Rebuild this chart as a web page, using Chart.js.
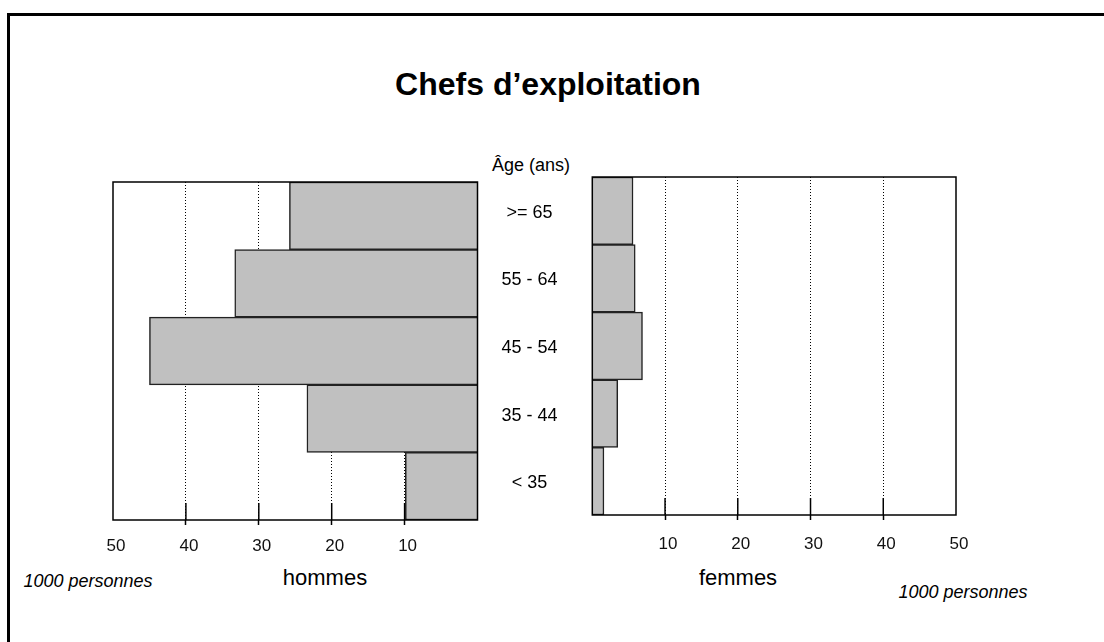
<!DOCTYPE html>
<html>
<head>
<meta charset="utf-8">
<script src="https://cdn.jsdelivr.net/npm/chart.js@4"></script>
<style>
  html, body { margin: 0; overflow: hidden; }
  body { width: 1104px; height: 642px; background: #fff; position: relative;
         font-family: "Liberation Sans", Arial, sans-serif; color: #000; }
  .frame { position: absolute; left: 7px; top: 13px; right: 0; bottom: 0;
           border-top: 3px solid #000; border-left: 3px solid #000; }
  .lbl { position: absolute; transform: translate(-50%, -50%); line-height: 1; white-space: nowrap; }
  canvas { position: absolute; top: 0; }
</style>
</head>
<body>
<div class="frame"></div>
<div class="lbl" style="left:548px; top:84px; font-size:32px; font-weight:bold;">Chefs d’exploitation</div>
<div class="lbl" style="left:531px; top:165px; font-size:18px;">Âge (ans)</div>
<div class="lbl" style="left:325px; top:578px; font-size:22px;">hommes</div>
<div class="lbl" style="left:738px; top:578px; font-size:22px;">femmes</div>
<div class="lbl" style="left:88px; top:581px; font-size:18px; font-style:italic;">1000 personnes</div>
<div class="lbl" style="left:963px; top:592px; font-size:18px; font-style:italic;">1000 personnes</div>

<canvas id="chartHommes" width="600" height="642" style="left:0"></canvas>
<canvas id="chartFemmes" width="544" height="642" style="left:560px"></canvas>

<script>
// Classes d'âge (de haut en bas) et effectifs en milliers
const ageGroups = ['>= 65', '55 - 64', '45 - 54', '35 - 44', '< 35'];
const hommes = [25.8, 33.3, 45.0, 23.4, 9.9];
const femmes = [5.6, 5.9, 6.9, 3.5, 1.6];
const axisMax = 50;
const axisStep = 10;

Chart.defaults.font.family = '"Liberation Sans", Arial, sans-serif';
Chart.defaults.color = '#000';

const hidden = 'rgba(0,0,0,0)';
const isEdge = (v) => v === 0 || v === axisMax;

// cadre du graphique + petits traits de graduation a l'interieur
const boxPlugin = {
  id: 'box',
  beforeDatasetsDraw(chart) {
    const { ctx, chartArea: a, scales: { x } } = chart;
    ctx.save();
    ctx.strokeStyle = '#000';
    ctx.lineWidth = 1.5;
    x.ticks.forEach((t, i) => {
      if (isEdge(t.value)) return;
      const px = x.getPixelForTick(i);
      ctx.beginPath();
      ctx.moveTo(px, a.bottom - 17);
      ctx.lineTo(px, a.bottom);
      ctx.stroke();
    });
    ctx.restore();
  },
  afterDatasetsDraw(chart) {
    const { ctx, chartArea: a } = chart;
    ctx.save();
    ctx.strokeStyle = '#000';
    ctx.lineWidth = 1.5;
    ctx.strokeRect(a.left, a.top, a.right - a.left, a.bottom - a.top);
    ctx.restore();
  }
};

function xAxis(reverse, pad) {
  return {
    type: 'linear',
    min: 0,
    max: axisMax,
    reverse: reverse,
    afterFit: (scale) => { scale.height = 45; },
    ticks: {
      stepSize: axisStep,
      autoSkip: false,
      maxRotation: 0,
      padding: pad,
      labelOffset: 3,
      font: { size: 17 },
      color: '#111',
      callback: (v) => (v === 0 ? '' : v)
    },
    grid: {
      color: (c) => (c.tick && isEdge(c.tick.value) ? hidden : '#000'),
      lineWidth: 1,
      tickLength: 5,
      tickWidth: 1.5,
      tickColor: (c) => (c.tick && isEdge(c.tick.value) ? hidden : '#000')
    },
    border: { display: false, dash: [1, 2] }
  };
}

function barDataset(values) {
  return {
    data: values,
    backgroundColor: '#c0c0c0',
    borderColor: '#222',
    borderWidth: 1.5,
    barPercentage: 1,
    categoryPercentage: 1
  };
}

const commonPlugins = { legend: { display: false }, tooltip: { enabled: false } };

new Chart(document.getElementById('chartHommes'), {
  type: 'bar',
  data: { labels: ageGroups, datasets: [barDataset(hommes)] },
  options: {
    indexAxis: 'y',
    responsive: false,
    animation: false,
    layout: { padding: { left: 113, top: 182, right: 12.5, bottom: 77 } },
    scales: {
      x: xAxis(true, 11),
      y: {
        type: 'category',
        position: 'right',
        afterFit: (scale) => { scale.width = 110; },
        grid: { display: false, drawTicks: false },
        border: { display: false },
        ticks: { crossAlign: 'center', padding: 24, labelOffset: -3, font: { size: 18 }, color: '#000' }
      }
    },
    plugins: commonPlugins
  },
  plugins: [boxPlugin]
});

new Chart(document.getElementById('chartFemmes'), {
  type: 'bar',
  data: { labels: ageGroups, datasets: [barDataset(femmes)] },
  options: {
    indexAxis: 'y',
    responsive: false,
    animation: false,
    layout: { padding: { left: 32.3, top: 177, right: 148, bottom: 82 } },
    scales: {
      x: xAxis(false, 14),
      y: { type: 'category', display: false }
    },
    plugins: commonPlugins
  },
  plugins: [boxPlugin]
});
</script>
</body>
</html>
